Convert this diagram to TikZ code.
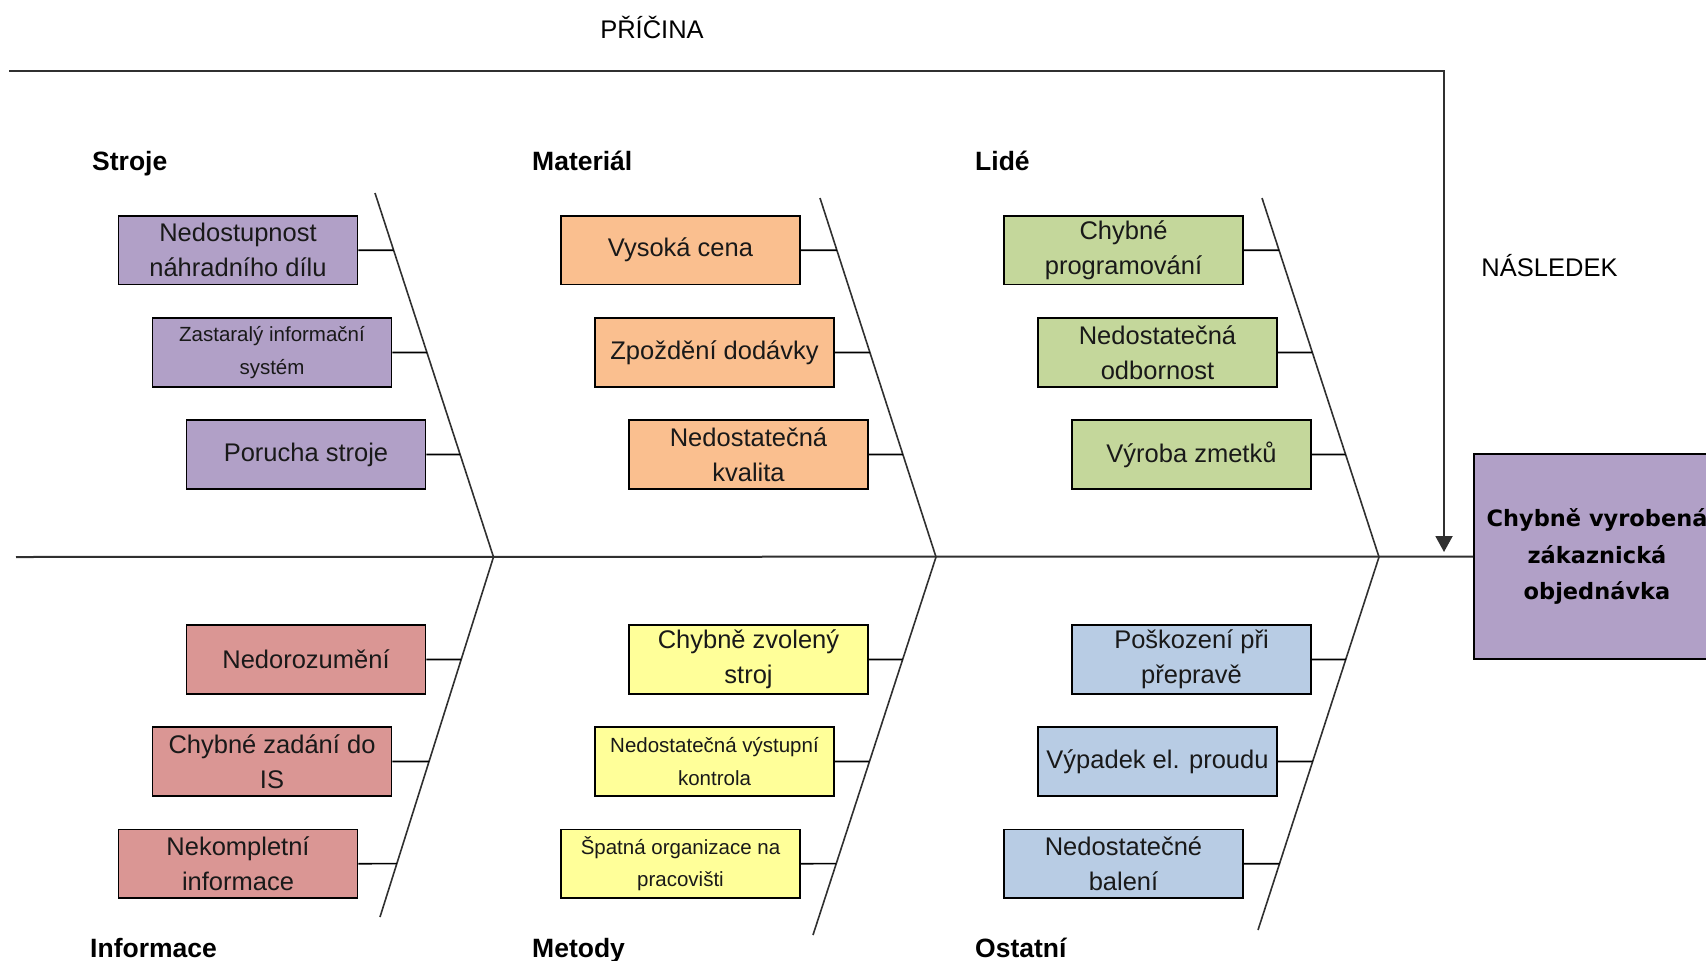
\documentclass[tikz,border=0pt]{standalone}
\usepackage{fontspec}
\setmainfont{Liberation Sans}
\newfontfamily\effont{DejaVu Sans}
\usetikzlibrary{arrows.meta}
\definecolor{cpurple}{HTML}{B1A0C7}
\definecolor{corange}{HTML}{FABF8F}
\definecolor{cgreen}{HTML}{C4D79B}
\definecolor{cred}{HTML}{DA9694}
\definecolor{cyellow}{HTML}{FFFF99}
\definecolor{cblue}{HTML}{B8CCE4}
\definecolor{lineg}{HTML}{303030}
\tikzset{
  cbox/.style={draw=black, line width=1.6pt, minimum width=239pt, minimum height=68.5pt,
    inner sep=0pt, align=center, text=black!90, font=\fontsize{25.5}{35}\selectfont},
  small/.style={font=\fontsize{20.5}{32.5}\selectfont},
  bone/.style={draw=lineg, line width=1.6pt},
  twig/.style={draw=black, line width=1.6pt},
  cat/.style={anchor=base west, inner sep=0pt, font=\bfseries\fontsize{26.5}{30}\selectfont},
  head/.style={inner sep=0pt, font=\fontsize{25.5}{30}\selectfont},
}
\newcommand{\fishbox}[6]{%
  \node[cbox,#4] (#1) at (#2,#3) {#5};
  \coordinate (#1end) at (intersection cs: first line={(#6V)--(#6E)}, second line={(#1.east)--([xshift=10pt]#1.east)});
  \draw[twig] (#1.east) -- (#1end);
}
\begin{document}
\begin{tikzpicture}[x=1pt,y=-1pt]
\useasboundingbox (0,0) rectangle (1706,961);
\fill[white] (0,0) rectangle (1706,961);
\clip (0,0) rectangle (1706,961);

% titles
\node[head] (pricina) at (652,27) {PŘÍČINA};
\node[head] (nasledek) at (1549.5,265.5) {NÁSLEDEK};

% effect box
\node[draw=black, line width=1.6pt, fill=cpurple, minimum width=246pt, minimum height=205pt,
  inner sep=0pt, align=center, font=\effont\bfseries\fontsize{22.5}{36.5}\selectfont]
  (effect) at (1597,556.5) {Chybně vyrobená\\zákaznická\\objednávka};

% top frame line and arrow
\coordinate (tl) at (9,71);
\coordinate (tr) at (1444,71);
\coordinate (ar) at (1444,552);
\draw[draw=lineg, line width=2pt, -{Triangle[width=17pt,length=16pt]}] (tl) -- (tr) -- (ar);

% spine
\coordinate (sp) at (16,557);
\draw[draw=lineg, line width=2pt] (sp) -- (effect.west);

% bone coordinates
\coordinate (uAV) at (493.5,557); \coordinate (uAE) at (375,193);
\coordinate (uBV) at (936,557);   \coordinate (uBE) at (820,198);
\coordinate (uCV) at (1379,557);  \coordinate (uCE) at (1262,198);
\coordinate (lAV) at (493.5,557); \coordinate (lAE) at (380,917);
\coordinate (lBV) at (936,557);   \coordinate (lBE) at (813,935);
\coordinate (lCV) at (1379,557);  \coordinate (lCE) at (1258,930);
\foreach \b in {uA,uB,uC,lA,lB,lC} \draw[bone] (\b V) -- (\b E);

% category labels
\node[cat] (stroje) at (92,170.7) {Stroje};
\node[cat] (material) at (532,170.7) {Materiál};
\node[cat] (lide) at (975,170.7) {Lidé};
\node[cat] (informace) at (90,957) {Informace};
\node[cat] (metody) at (532,957) {Metody};
\node[cat] (ostatni) at (975,957) {Ostatní};

% Stroje
\fishbox{s1}{238}{250.2}{fill=cpurple}{Nedostupnost\\náhradního dílu}{uA}
\fishbox{s2}{272}{352.5}{fill=cpurple,small}{Zastaralý informační\\systém}{uA}
\fishbox{s3}{306}{454.5}{fill=cpurple}{Porucha stroje}{uA}
% Materiál
\fishbox{m1}{680.5}{250.2}{fill=corange}{Vysoká cena}{uB}
\fishbox{m2}{714.5}{352.5}{fill=corange}{Zpoždění dodávky}{uB}
\fishbox{m3}{748.5}{454.5}{fill=corange}{Nedostatečná\\kvalita}{uB}
% Lidé
\fishbox{l1}{1123.5}{250.2}{fill=cgreen}{Chybné\\programování}{uC}
\fishbox{l2}{1157.5}{352.5}{fill=cgreen}{Nedostatečná\\odbornost}{uC}
\fishbox{l3}{1191.5}{454.5}{fill=cgreen}{Výroba zmetků}{uC}
% Informace
\fishbox{i1}{306}{659.5}{fill=cred}{Nedorozumění}{lA}
\fishbox{i2}{272}{761.5}{fill=cred}{Chybné zadání do\\IS}{lA}
\fishbox{i3}{238}{863.7}{fill=cred}{Nekompletní\\informace}{lA}
% Metody
\fishbox{t1}{748.5}{659.5}{fill=cyellow}{Chybně zvolený\\stroj}{lB}
\fishbox{t2}{714.5}{761.5}{fill=cyellow,small}{Nedostatečná výstupní\\kontrola}{lB}
\fishbox{t3}{680.5}{863.7}{fill=cyellow,small}{Špatná organizace na\\pracovišti}{lB}
% Ostatní
\fishbox{o1}{1191.5}{659.5}{fill=cblue}{Poškození při\\přepravě}{lC}
\fishbox{o2}{1157.5}{761.5}{fill=cblue}{Výpadek el. proudu}{lC}
\fishbox{o3}{1123.5}{863.7}{fill=cblue}{Nedostatečné\\balení}{lC}
\end{tikzpicture}
\end{document}
